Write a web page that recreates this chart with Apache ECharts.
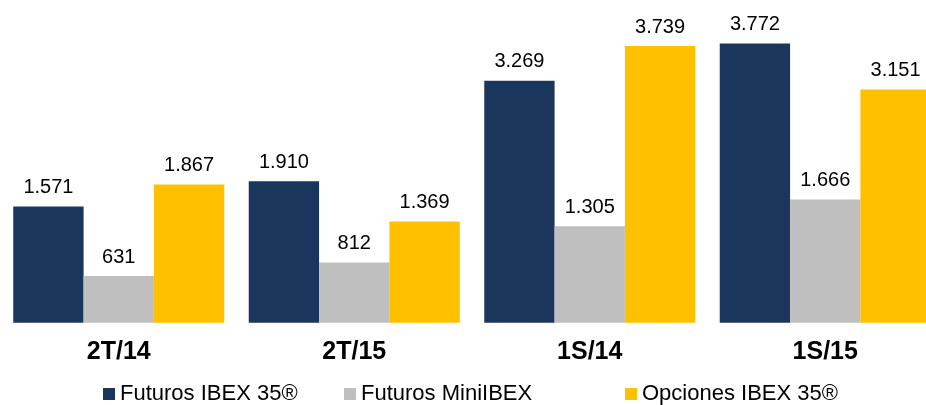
<!DOCTYPE html>
<html>
<head>
<meta charset="utf-8">
<script src="https://cdn.jsdelivr.net/npm/echarts@6/dist/echarts.min.js"></script>
<style>html,body{margin:0;padding:0;background:#fff}#c{width:926px;height:405px}</style>
</head>
<body>
<div id="c"></div>
<script>
const categories = ['2T/14', '2T/15', '1S/14', '1S/15'];
const seriesNames = ['Futuros IBEX 35®', 'Futuros MiniIBEX', 'Opciones IBEX 35®'];
const futurosIbex = [1571, 1910, 3269, 3772];
const futurosMini = [631, 812, 1305, 1666];
const opcionesIbex = [1867, 1369, 3739, 3151];
const colors = ['#1b365d', '#bfbfbf', '#ffc000'];

const fmt = v => String(v).replace(/\B(?=(\d{3})+(?!\d))/g, '.');
const font = 'Arial, "Liberation Sans", sans-serif';

const chart = echarts.init(document.getElementById('c'));
const dataSets = [futurosIbex, futurosMini, opcionesIbex];
const legendLefts = [103, 344, 625];

chart.setOption({
  animation: false,
  grid: { left: 1, width: 942, top: 26.7, bottom: 82.3, outerBoundsMode: 'none', containLabel: false },
  xAxis: {
    type: 'category',
    data: categories,
    axisLine: { show: false },
    axisTick: { show: false },
    axisLabel: { fontSize: 25, fontWeight: 'bold', color: '#000', fontFamily: font, margin: 17 }
  },
  yAxis: { type: 'value', min: 0, max: 4000, show: false, splitLine: { show: false } },
  legend: seriesNames.map((n, i) => ({
    data: [n], left: legendLefts[i], top: 383, padding: 0,
    icon: 'rect', itemWidth: 12, itemHeight: 12,
    textStyle: { fontSize: 22, color: '#000', fontFamily: font }
  })),
  series: seriesNames.map((n, i) => ({
    name: n, type: 'bar', data: dataSets[i],
    barGap: '0%', barCategoryGap: '10.4%',
    itemStyle: { color: colors[i] },
    label: { show: true, position: 'top', distance: 9, fontSize: 20, color: '#000', fontFamily: font,
      formatter: p => fmt(p.value) }
  }))
});
</script>
</body>
</html>
